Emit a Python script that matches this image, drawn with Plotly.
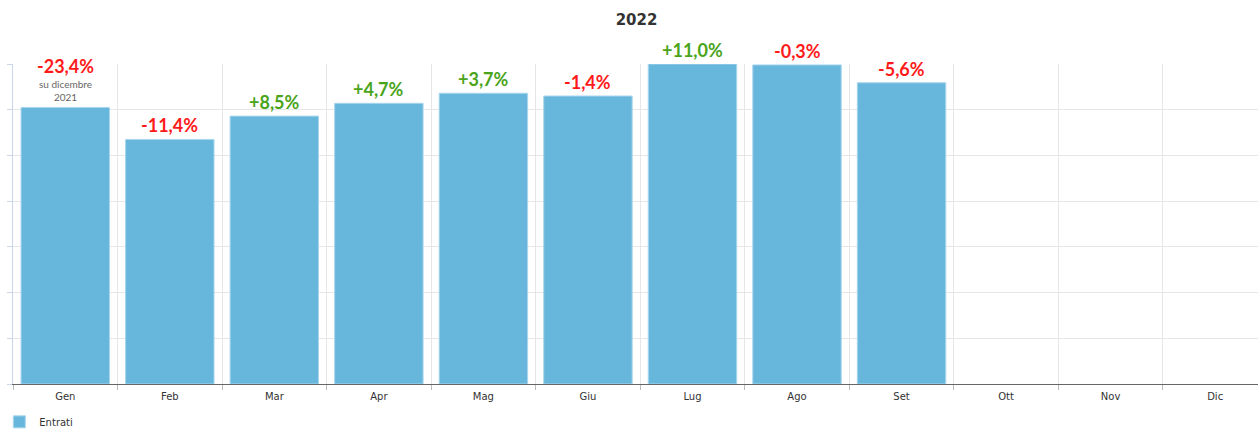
import plotly.graph_objects as go

months = ["Gen", "Feb", "Mar", "Apr", "Mag", "Giu", "Lug", "Ago", "Set", "Ott", "Nov", "Dic"]
entrati = [6050, 5350, 5860, 6140, 6360, 6300, 7000, 6980, 6590, None, None, None]
variazioni = ["-23,4%", "-11,4%", "+8,5%", "+4,7%", "+3,7%", "-1,4%", "+11,0%", "-0,3%", "-5,6%", None, None, None]
nota_gen = "su dicembre<br>2021"

RED = "#ff1a1a"
GREEN = "#4aa41a"

fig = go.Figure()
fig.add_trace(go.Bar(
    x=months, y=entrati, name="Entrati",
    marker=dict(color="#67b6dc", line=dict(color="#a9d6ee", width=1)),
    showlegend=True,
))

for i, (m, v, t) in enumerate(zip(months, entrati, variazioni)):
    if v is None or t is None:
        continue
    color = RED if t.startswith("-") else GREEN
    shift = 28 if i == 0 else 1
    fig.add_annotation(x=m, y=v, text=t, showarrow=False, yanchor="bottom", yshift=shift,
                       font=dict(family="Lato", size=18, color=color, weight="bold"))
    if i == 0:
        fig.add_annotation(x=m, y=v, text=nota_gen, showarrow=False, yanchor="bottom", yshift=2,
                           font=dict(family="Lato", size=10, color="#666666"))

fig.update_layout(
    width=1258, height=429,
    margin=dict(l=13, r=0, t=64, b=45, autoexpand=False),
    paper_bgcolor="white", plot_bgcolor="white",
    title=dict(text="<b>2022</b>", x=0.506, xanchor="center", y=0.955, yanchor="middle",
               font=dict(family="DejaVu Sans", size=15, color="#333333")),
    bargap=0.154,
    showlegend=True,
    legend=dict(x=-0.011, xanchor="left", y=-0.073, yanchor="top", orientation="h",
                itemwidth=30,
                font=dict(family="DejaVu Sans", size=10, color="#333333")),
    xaxis=dict(categoryorder="array", categoryarray=months, range=[-0.5, 11.41],
               tickson="boundaries", showgrid=True, gridcolor="#e6e6e6",
               showline=True, linecolor="#666666", linewidth=1,
               ticks="outside", ticklen=5, tickcolor="#bbbbbb", ticklabelstandoff=3,
               tickfont=dict(family="DejaVu Sans", size=10, color="#333333")),
    yaxis=dict(range=[0, 7000], dtick=1000, showticklabels=False, showgrid=True,
               gridcolor="#e6e6e6", zeroline=False, fixedrange=True,
               showline=True, linecolor="#ccd6eb", linewidth=1,
               ticks="outside", ticklen=5, tickcolor="#ccd6eb"),
)

fig.write_html("out.html", config={"displayModeBar": False},
               post_script="document.body.style.margin='0';")
